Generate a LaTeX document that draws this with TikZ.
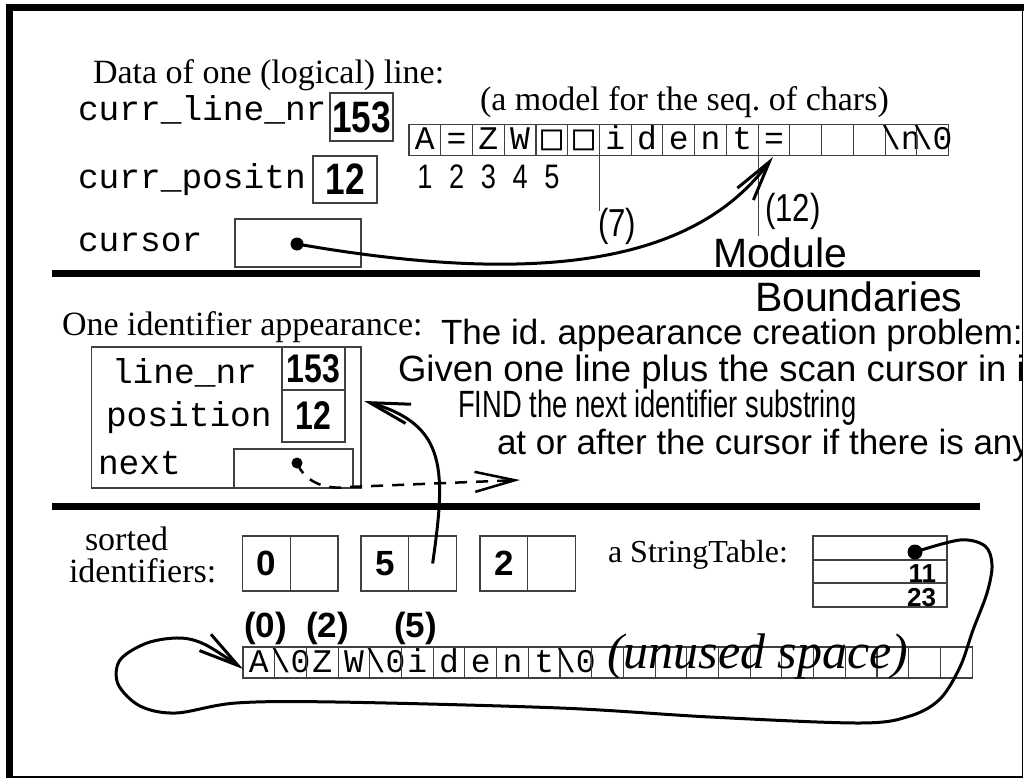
\documentclass[tikz,border=0pt]{standalone}
\usepackage{fontspec}
\setmainfont{Liberation Serif}
\setsansfont{Liberation Sans}
\setmonofont{Liberation Mono}
\newfontfamily\squarefont{DejaVu Sans Mono}
\newfontfamily\tallsans[FakeStretch=0.8]{Liberation Sans}
\newfontfamily\narrowsans[FakeStretch=0.72]{Liberation Sans}
\usetikzlibrary{arrows.meta}
\newcommand\blankchar{{\squarefont\fontsize{35}{35}\selectfont\symbol{"25A1}}}

\tikzset{
  txt/.style={inner sep=0pt, outer sep=0pt},
  serif/.style={txt, font=\rmfamily\fontsize{34}{40}\selectfont},
  mono/.style={txt, font=\ttfamily\fontsize{34.5}{40}\selectfont},
  sans/.style={txt, font=\sffamily\fontsize{35}{40}\selectfont},
  bigsans/.style={txt, font=\sffamily\fontsize{41}{46}\selectfont},
  tallnum/.style={txt, font=\tallsans\fontsize{39}{42}\selectfont},
  bold/.style={txt, font=\sffamily\bfseries\fontsize{35}{40}\selectfont},
  boxnum/.style={txt, font=\tallsans\bfseries\fontsize{44}{46}\selectfont},
  recnum/.style={txt, font=\tallsans\bfseries\fontsize{40}{42}\selectfont},
  smallbold/.style={txt, font=\sffamily\bfseries\fontsize{26}{28}\selectfont},
  frameline/.style={draw=black!75, line width=1.1pt},
  cell/.style={frameline, minimum width=31.74pt, minimum height=31pt, inner sep=0pt, outer sep=0pt,
    text height=21pt, text depth=2pt, font=\ttfamily\fontsize{33}{33}\selectfont},
  slot/.style={frameline, inner sep=0pt, outer sep=0pt},
  divider/.style={line width=7pt},
  link/.style={line width=3pt},
  barb/.style={-{Straight Barb[length=40pt,width=20pt]}},
  dot/.style={circle, fill, inner sep=0pt, minimum size=13pt}
}

\begin{document}
\begin{tikzpicture}[x=1pt,y=-1pt]
\useasboundingbox (0,0) rectangle (1024,778);

% page frame: heavy top and left edge, thin right and bottom edge
\fill (6,4) rectangle (1024,11);
\fill (6,4) rectangle (13,778);
\draw[line width=1.5pt] (13,777) -- (1022.5,777) -- (1022.5,11);

\begin{scope}
\clip (13,11) rectangle (1022,776);

% ---------- data of one line ----------
\node[serif, anchor=base west] (linehead) at (93,84) {Data of one (logical) line:};
\node[mono, anchor=base west] (lnlabel) at (78,121) {curr\_line\_nr};
\node[slot, boxnum, minimum width=63pt, minimum height=48pt] (lnval) at (361.5,117) {153};
\node[mono, anchor=base west] (poslabel) at (78,188) {curr\_positn};
\node[slot, boxnum, minimum width=64pt, minimum height=47pt] (posval) at (345,179.5) {12};
\node[mono, anchor=base west] (curlabel) at (78,251) {cursor};
\node[slot, minimum width=126pt, minimum height=48pt] (curbox) at (298,243) {};
\node[dot] (curdot) at (297,244) {};

\node[serif, anchor=base west] (modelnote) at (480,111) {(a model for the seq.\ of chars)};

% character sequence of the line
\foreach \ch [count=\i] in {A,=,Z,W,\blankchar,\blankchar,i,d,e,n,t,=,{},{},{},\textbackslash n,\textbackslash 0}
  \node[cell] (c\i) at ({409+(\i-0.5)*31.74},140) {\makebox[0pt]{\ch}};
\foreach \i in {1,...,5}
  \node[txt, font=\tallsans\fontsize{34}{36}\selectfont, anchor=base] (n\i) at ({409+(\i-0.5)*31.74},189) {\i};

% position markers
\coordinate (m7) at (599,211);
\coordinate (m12) at (758,236);
\draw[frameline] (c7.north west) -- (c7.south west |- m7);
\draw[frameline] (c12.north west) -- (c12.south west |- m12);
\node[tallnum, anchor=base west] (lab7) at (598,236) {(7)};
\node[tallnum, anchor=base west] (lab12) at (765,221) {(12)};

% cursor pointing into the sequence
\coordinate (eqtip) at (773,157);
\draw[link, barb] (curdot.center) .. controls (560,290) and (700,255) .. (eqtip);

\node[bigsans, anchor=base west] (modword) at (713,267) {Module};
\draw[divider] (52,273.5) -- (980,273.5);
\node[bigsans, anchor=base west] (bndword) at (755,311) {Boundaries};

% ---------- one identifier appearance ----------
\node[serif, anchor=base west] (apphead) at (62,335) {One identifier appearance:};
\node[slot, minimum width=269.5pt, minimum height=141pt] (rec) at (226.25,417.5) {};
\node[slot, recnum, minimum width=63pt, minimum height=43pt] (recln) at (313.5,368.5) {153};
\node[slot, recnum, minimum width=63pt, minimum height=52pt] (recpos) at (313.5,416) {12};
\node[slot, minimum width=119pt, minimum height=39pt] (recnext) at (293.5,468.5) {};
\node[mono, anchor=base west] (lnr) at (112,383) {line\_nr};
\node[mono, anchor=base west] (posn) at (106,426) {position};
\node[mono, anchor=base west] (nxt) at (98,474) {next};
\node[dot, minimum size=11pt] (nextdot) at (297,463) {};

\coordinate (dashend) at (520,480);
\draw[link, line width=2.5pt, dash pattern=on 12pt off 9pt, barb]
  (nextdot.center) .. controls (305,482) and (325,490) .. (348,487) -- (dashend);

\node[sans, anchor=base west] (prob1) at (441,344) {The id.\ appearance creation problem:};
\node[txt, font=\sffamily\fontsize{36.5}{40}\selectfont, anchor=base west] (prob2) at (398,381) {Given one line plus the scan cursor in it};
\node[txt, font=\narrowsans\fontsize{38}{40}\selectfont, anchor=base west] (prob3) at (458,417) {FIND the next identifier substring};
\node[sans, anchor=base west] (prob4) at (497,454) {at or after the cursor if there is any};

\draw[divider] (52,506) -- (980,506);

% ---------- sorted identifiers and the string table ----------
\node[serif, anchor=base west] (sorthead1) at (85,550) {sorted};
\node[serif, anchor=base west] (sorthead2) at (69,582) {identifiers:};
\foreach \v/\xl in {0/242.5, 5/361, 2/480} {
  \node[slot, bold, minimum width=47.75pt, minimum height=55pt, anchor=north west] (sl\v) at (\xl,536) {\v};
  \node[slot, minimum width=47.75pt, minimum height=55pt, anchor=north west] (sr\v) at ({\xl+47.75},536) {};
}

\coordinate (uptip) at (364,401);
\draw[link, barb] (sr5.center) .. controls (446,470) and (447,425) .. (uptip);

\node[serif, font=\rmfamily\fontsize{32}{36}\selectfont, anchor=base west] (sthead) at (608,562) {a StringTable:};
\node[slot, minimum width=134pt, minimum height=24pt, anchor=north west] (row1) at (813,536) {};
\node[slot, minimum width=134pt, minimum height=23pt, anchor=north west] (row2) at (813,560) {};
\node[slot, minimum width=134pt, minimum height=24pt, anchor=north west] (row3) at (813,583) {};
\node[smallbold, anchor=base east] (v11) at (936,582) {11};
\node[smallbold, anchor=base east] (v23) at (936,606) {23};
\node[dot, minimum size=15pt] (stdot) at (915,552) {};

% shared character store
\foreach \ch [count=\i] in {A,\textbackslash 0,Z,W,\textbackslash 0,i,d,e,n,t,\textbackslash 0,{},{},{},{},{},{},{},{},{},{},{},{}}
  \node[cell] (s\i) at ({243+(\i-0.5)*31.7},662.5) {\makebox[0pt]{\ch}};
\node[bold, anchor=base west] (off0) at (244,637) {(0)};
\node[bold, anchor=base west] (off2) at (306,637) {(2)};
\node[bold, anchor=base west] (off5) at (394,637) {(5)};
\node[txt, font=\rmfamily\itshape\fontsize{50}{50}\selectfont, anchor=base west] (unused) at (607,668) {(unused space)};

\coordinate (looptip) at (243,669);
\draw[link, barb] plot[smooth, tension=0.55] coordinates {
  (stdot.center) (960,540) (985,546) (992,565) (987,593) (973,630) (960,667)
  (940,699) (910,716) (860,723) (710,717) (560,708) (336,702) (236,703)
  (176,713) (140,706) (118,684) (120,660) (147,643) (180,638) (206,645) (looptip)};
\end{scope}
\end{tikzpicture}
\end{document}
